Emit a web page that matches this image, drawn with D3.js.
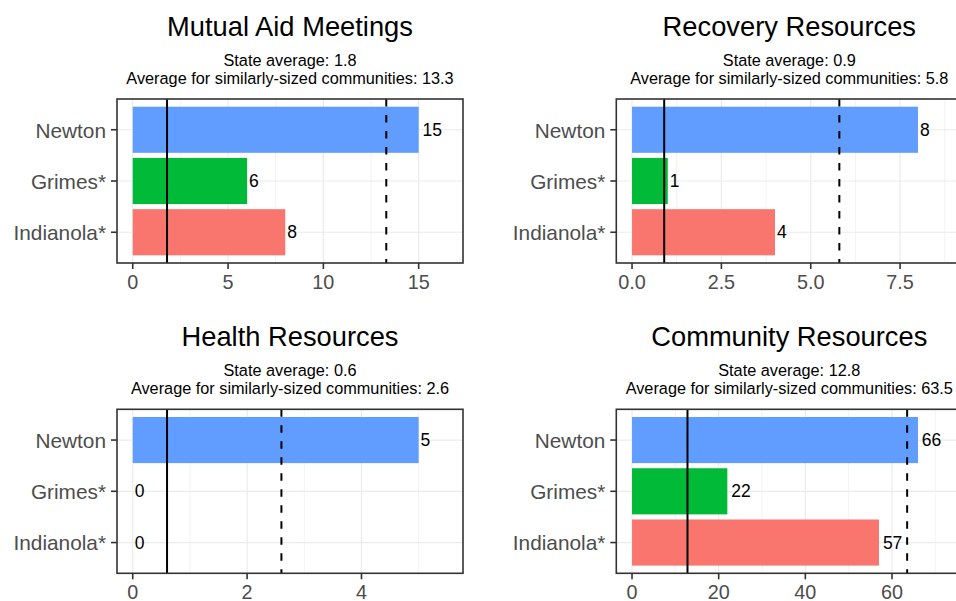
<!DOCTYPE html>
<html>
<head>
<meta charset="utf-8">
<script src="https://cdn.jsdelivr.net/npm/d3@7"></script>
<style>
	body{ margin:0; background:#ffffff; }
	svg{ display:block; font-family:"Liberation Sans", Arial, sans-serif; }
</style>
</head>
<body>
<div id="chart"></div>
<script>
"use strict";

//********************************* DATA *********************************
var communities = ["Newton", "Grimes*", "Indianola*"];		//top to bottom
var barColors = ["#619CFF", "#00BA38", "#F8766D"];

var panelTitles = ["Mutual Aid Meetings", "Recovery Resources", "Health Resources", "Community Resources"];
var mutualAid = [15, 6, 8];
var recovery = [8, 1, 4];
var health = [5, 0, 0];
var community = [66, 22, 57];
var stateAvg = [1.8, 0.9, 0.6, 12.8];
var similarAvg = [13.3, 5.8, 2.6, 63.5];

//major breaks + their labels for each panel (ggplot picks these, not d3)
var tickValues = [[0, 5, 10, 15], [0, 2.5, 5, 7.5], [0, 2, 4], [0, 20, 40, 60]];
var tickLabels = [["0", "5", "10", "15"], ["0.0", "2.5", "5.0", "7.5"], ["0", "2", "4"], ["0", "20", "40", "60"]];

var seriesValues = [mutualAid, recovery, health, community];

//********************************* LAYOUT *********************************
var W = 956, H = 601;
var panelW = 346, panelH = 164;
var panelLeft = [117, 616.3];
var panelTop = [99, 409.3];

var svg = d3.select("#chart").append("svg")
			.attr("width", W)
			.attr("height", H);

//Draws one facet-like panel (idx 0..3)
function drawPanel(idx){
	var left = panelLeft[idx % 2];
	var top = panelTop[Math.floor(idx / 2)];
	var vals = seriesValues[idx];

	//ggplot: limit = max*1.1, then 5% expansion on both sides
	var lim = d3.max(vals) * 1.1;
	var x = d3.scaleLinear()
			.domain([-0.05 * lim, lim * 1.05])
			.range([left, left + panelW]);

	var y = d3.scaleBand()
			.domain(communities)
			.range([top, top + panelH])
			.paddingInner(0.1)
			.paddingOuter(0.15);

	var color = d3.scaleOrdinal().domain(communities).range(barColors);

	var g = svg.append("g").attr("class", "panel");

	//minor breaks sit halfway between the majors
	var majors = tickValues[idx];
	var step = majors[1] - majors[0];
	var minors = [];
	for(var i = 0; i <= majors.length; ++i){
		var m = majors[0] + step * (i - 0.5);
		if(m > x.domain()[0] && m < x.domain()[1]) minors.push(m);
	}

	g.selectAll(".minor").data(minors).enter()
		.append("line")
		.attr("x1", function(d){ return x(d); })
		.attr("x2", function(d){ return x(d); })
		.attr("y1", top).attr("y2", top + panelH)
		.attr("stroke", "#ebebeb").attr("stroke-width", 0.6);

	g.selectAll(".majorx").data(majors).enter()
		.append("line")
		.attr("x1", function(d){ return x(d); })
		.attr("x2", function(d){ return x(d); })
		.attr("y1", top).attr("y2", top + panelH)
		.attr("stroke", "#ebebeb").attr("stroke-width", 1.2);

	g.selectAll(".majory").data(communities).enter()
		.append("line")
		.attr("x1", left).attr("x2", left + panelW)
		.attr("y1", function(d){ return y(d) + y.bandwidth() / 2; })
		.attr("y2", function(d){ return y(d) + y.bandwidth() / 2; })
		.attr("stroke", "#ebebeb").attr("stroke-width", 1.2);

	//bars
	g.selectAll(".bar").data(vals).enter()
		.append("rect")
		.attr("x", x(0))
		.attr("y", function(d, i){ return y(communities[i]); })
		.attr("width", function(d){ return x(d) - x(0); })
		.attr("height", y.bandwidth())
		.attr("fill", function(d, i){ return color(communities[i]); });

	//state average (solid) and similar-size average (dashed)
	g.append("line")
		.attr("x1", x(stateAvg[idx])).attr("x2", x(stateAvg[idx]))
		.attr("y1", top).attr("y2", top + panelH)
		.attr("stroke", "#000").attr("stroke-width", 2);

	g.append("line")
		.attr("x1", x(similarAvg[idx])).attr("x2", x(similarAvg[idx]))
		.attr("y1", top).attr("y2", top + panelH)
		.attr("stroke", "#000").attr("stroke-width", 2)
		.attr("stroke-dasharray", "7.5,8.5");

	//value labels, hjust = -0.2 like geom_text
	g.selectAll(".val").data(vals).enter()
		.append("text")
		.text(function(d){ return d; })
		.attr("x", x(0))
		.attr("y", function(d, i){ return y(communities[i]) + y.bandwidth() / 2; })
		.attr("dy", "0.35em")
		.attr("font-size", "17.5px")
		.attr("fill", "#000")
		.each(function(d){
			var w = this.getComputedTextLength();
			d3.select(this).attr("x", x(d) + 0.2 * w);
		});

	//panel border
	g.append("rect")
		.attr("x", left).attr("y", top)
		.attr("width", panelW).attr("height", panelH)
		.attr("fill", "none")
		.attr("stroke", "#333333").attr("stroke-width", 1.6);

	//x axis ticks + labels
	g.selectAll(".xtick").data(majors).enter()
		.append("line")
		.attr("x1", function(d){ return x(d); })
		.attr("x2", function(d){ return x(d); })
		.attr("y1", top + panelH).attr("y2", top + panelH + 6)
		.attr("stroke", "#333333").attr("stroke-width", 1.6);

	g.selectAll(".xlab").data(majors).enter()
		.append("text")
		.text(function(d, i){ return tickLabels[idx][i]; })
		.attr("x", function(d){ return x(d); })
		.attr("y", top + panelH + 26)
		.attr("text-anchor", "middle")
		.attr("font-size", "19.8px")
		.attr("fill", "#4d4d4d");

	//y axis ticks + labels
	g.selectAll(".ytick").data(communities).enter()
		.append("line")
		.attr("x1", left - 6).attr("x2", left)
		.attr("y1", function(d){ return y(d) + y.bandwidth() / 2; })
		.attr("y2", function(d){ return y(d) + y.bandwidth() / 2; })
		.attr("stroke", "#333333").attr("stroke-width", 1.6);

	g.selectAll(".ylab").data(communities).enter()
		.append("text")
		.text(function(d){ return d; })
		.attr("x", left - 11)
		.attr("y", function(d){ return y(d) + y.bandwidth() / 2; })
		.attr("dy", "0.38em")
		.attr("text-anchor", "end")
		.attr("font-size", "20.8px")
		.attr("fill", "#4d4d4d");

	//title + two subtitle lines, centered on the panel
	var cx = left + panelW / 2;
	g.append("text")
		.text(panelTitles[idx])
		.attr("x", cx).attr("y", top - 63.3)
		.attr("text-anchor", "middle")
		.attr("font-size", "27.3px")
		.attr("fill", "#000");

	g.append("text")
		.text("State average: " + stateAvg[idx])
		.attr("x", cx).attr("y", top - 33)
		.attr("text-anchor", "middle")
		.attr("font-size", "16.3px")
		.attr("fill", "#000");

	g.append("text")
		.text("Average for similarly-sized communities: " + similarAvg[idx])
		.attr("x", cx).attr("y", top - 15)
		.attr("text-anchor", "middle")
		.attr("font-size", "16.3px")
		.attr("fill", "#000");
}

for(var p = 0; p < panelTitles.length; ++p){
	drawPanel(p);
}
</script>
</body>
</html>
